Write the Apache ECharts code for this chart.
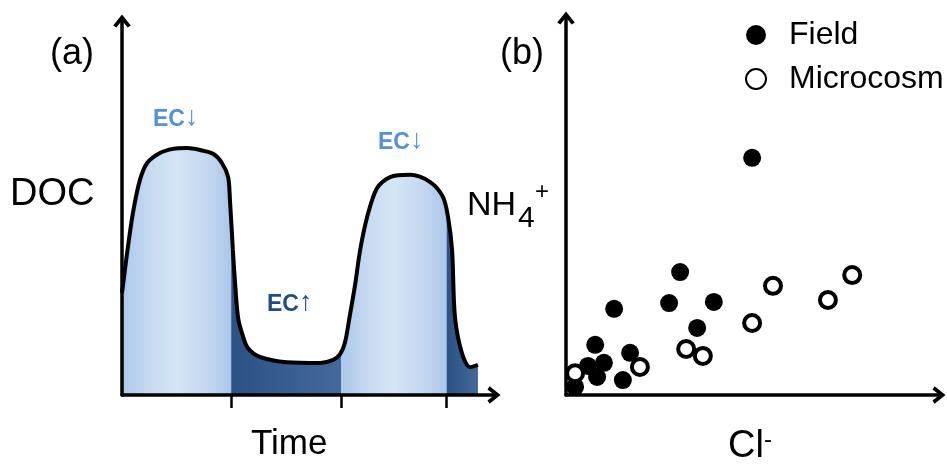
<!DOCTYPE html>
<html><head><meta charset="utf-8">
<script src="https://cdn.jsdelivr.net/npm/echarts@6/dist/echarts.min.js"></script>
<style>html,body{margin:0;padding:0;background:#fff}#c{width:947px;height:466px}</style>
</head><body><div id="c"></div>
<script>
// Panel (a): schematic DOC / time curve
const timeX = [0, 1.4, 3.0, 4.9, 6.9, 10.4, 14.0, 17.8, 21.4, 25.0, 27.4, 29.1, 29.6, 30.4, 31.0, 31.8, 32.9, 34.5, 37.8, 45.2, 54.3, 57.9, 59.8, 61.1, 62.5, 63.9, 65.3, 67.2, 69.9, 73.5, 79.0, 84.5, 88.0, 89.4, 90.5, 91.3, 93.2, 95.4, 97.6];
const docY  = [26.7, 37.2, 47.7, 56.3, 60.8, 63.4, 64.5, 64.7, 64.2, 63.2, 60.8, 57.1, 51.1, 38.0, 29.4, 20.4, 16.2, 12.3, 10.0, 8.6, 8.4, 9.2, 10.7, 13.6, 21.0, 28.8, 38.0, 46.6, 54.2, 57.1, 57.7, 55.8, 51.9, 46.6, 38.0, 20.4, 11.0, 7.3, 7.9];
const timeTicks = [30, 60, 89];           // segment boundaries / tick marks
const segmentKinds = ['light', 'dark', 'light', 'dark'];
// Panel (b): NH4+ vs Cl-
const fieldCl   = [49.1, 30.1, 12.7, 27.2, 39.0, 34.6, 7.7, 16.9, 10.0, 5.8, 8.2, 15.0, 2.4];
const fieldNH4  = [61.9, 32.1, 22.5, 24.0, 24.3, 17.5, 13.1, 11.0, 8.4, 7.6, 4.7, 3.9, 2.1];
const microCl   = [75.5, 54.6, 69.1, 49.1, 31.7, 36.1, 19.5, 2.4];
const microNH4  = [31.3, 28.5, 24.8, 18.8, 12.0, 10.2, 7.3, 5.7];

const FONT = 'Arial, "Liberation Sans", sans-serif';
const ARROW = 'path://M0,62 L50,0 L100,62 L82,74 L50,34 L18,74 Z';

// gradient for area fill built from segment boundaries
const xmin = timeX[0], xmax = timeX[timeX.length - 1];
const fr = v => Math.max(0, Math.min(1, (v - xmin) / (xmax - xmin)));
const bounds = [xmin].concat(timeTicks, [xmax]);
const stops = [];
segmentKinds.forEach((k, i) => {
  const a = bounds[i], b = bounds[i + 1], w = b - a;
  if (k === 'light') {
    stops.push({offset: fr(a), color: '#abc7eb'});
    stops.push({offset: fr(a + 0.25 * w), color: '#c6daf1'});
    stops.push({offset: fr(a + 0.5 * w), color: '#d6e5f6'});
    stops.push({offset: fr(a + 0.8 * w), color: '#c2d6ef'});
    stops.push({offset: fr(b) - 0.0005, color: '#aac6ea'});
  } else {
    stops.push({offset: fr(a) + 0.0005, color: '#2c5285'});
    stops.push({offset: fr(a + 0.5 * w), color: '#375e90'});
    stops.push({offset: fr(b) - 0.0005, color: '#45689a'});
  }
});

const axisLineStyle = {color: '#000', width: 3.5};
function mkAxis(gi, extra) {
  return Object.assign({
    type: 'value', gridIndex: gi, min: 0,
    splitLine: {show: false}, axisLabel: {show: false}, axisTick: {show: false},
    axisLine: {show: true, onZero: false, lineStyle: axisLineStyle, symbol: ['none', ARROW], symbolSize: [20, 13]}
  }, extra);
}

function ecLabel(left, top, arrow, color) {
  return {
    type: 'text', left: left, top: top,
    style: {
      text: '{a|EC}{b|' + arrow + '}',
      rich: {
        a: {font: 'bold 23px ' + FONT, fill: color, verticalAlign: 'bottom'},
        b: {font: 'bold 27px ' + FONT, fill: color, verticalAlign: 'bottom'}
      }
    }
  };
}

const chart = echarts.init(document.getElementById('c'), null, {renderer: 'canvas'});
chart.setOption({
  animation: false,
  backgroundColor: '#fff',
  grid: [
    {left: 122, right: 453, top: 21, bottom: 71},
    {left: 566, right: 8, top: 18, bottom: 71}
  ],
  xAxis: [
    mkAxis(0, {max: 102, z: 5, axisTick: {show: true, inside: false, length: 13, customValues: timeTicks, lineStyle: {color: '#000', width: 2.5}}}),
    mkAxis(1, {max: 98.4})
  ],
  yAxis: [
    mkAxis(0, {max: 98, z: 5}),
    mkAxis(1, {max: 98.4})
  ],
  legend: {
    orient: 'vertical', left: 740, top: 14, itemWidth: 20, itemHeight: 20, itemGap: 12,
    data: ['Field', 'Microcosm'],
    textStyle: {fontFamily: FONT, fontSize: 32, color: '#000', lineHeight: 32, padding: [0, 0, 0, 18]}
  },
  series: [
    {
      type: 'line', xAxisIndex: 0, yAxisIndex: 0, showSymbol: false, smooth: 0.3,
      data: timeX.map((x, i) => [x, docY[i]]),
      lineStyle: {color: '#000', width: 4},
      areaStyle: {opacity: 1, color: new echarts.graphic.LinearGradient(0, 0, 1, 0, stops)},
      z: 2
    },
    {
      name: 'Field', type: 'scatter', xAxisIndex: 1, yAxisIndex: 1, symbol: 'circle', symbolSize: 18,
      itemStyle: {color: '#000', opacity: 1},
      data: fieldCl.map((x, i) => [x, fieldNH4[i]])
    },
    {
      name: 'Microcosm', type: 'scatter', xAxisIndex: 1, yAxisIndex: 1, symbol: 'circle', symbolSize: 16,
      itemStyle: {color: '#fff', borderColor: '#000', borderWidth: 4, opacity: 1},
      data: microCl.map((x, i) => [x, microNH4[i]])
    }
  ],
  graphic: [
    {type: 'text', left: 50, top: 36, style: {text: '(a)', font: '36px ' + FONT, fill: '#000'}},
    {type: 'text', left: 10, top: 176, style: {text: 'DOC', font: '38px ' + FONT, fill: '#000'}},
    {type: 'text', left: 251, top: 427, style: {text: 'Time', font: '35px ' + FONT, fill: '#000'}},
    ecLabel(153, 104, '↓', '#5590d8'),
    ecLabel(378, 127, '↓', '#5590d8'),
    ecLabel(267, 289, '↑', '#1f4e85'),
    {type: 'text', left: 500, top: 36, style: {text: '(b)', font: '36px ' + FONT, fill: '#000'}},
    {type: 'text', left: 467, top: 189, style: {text: 'NH', font: '34px ' + FONT, fill: '#000'}},
    {type: 'text', left: 518, top: 204, style: {text: '4', font: '30px ' + FONT, fill: '#000'}},
    {type: 'text', left: 535, top: 180, style: {text: '+', font: '24px ' + FONT, fill: '#000'}},
    {type: 'text', left: 728, top: 428, style: {text: 'Cl', font: '38px ' + FONT, fill: '#000'}},
    {type: 'text', left: 764, top: 428, style: {text: '-', font: '24px ' + FONT, fill: '#000'}}
  ]
});
</script>
</body></html>
